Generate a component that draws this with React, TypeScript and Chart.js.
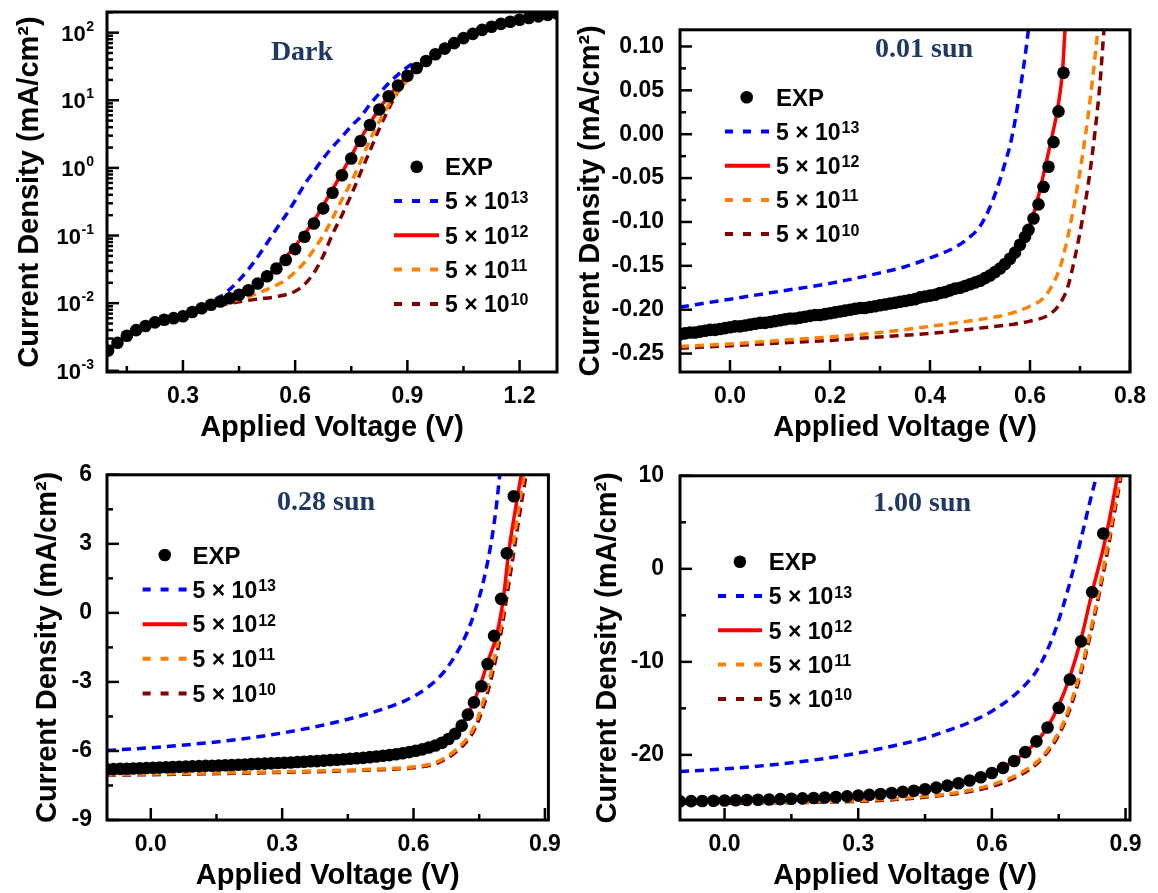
import React, { useEffect, useRef } from "react";
import { Chart, registerables } from "chart.js";

Chart.register(...registerables);

// ---------------- text ----------------
const xTitle = "Applied Voltage (V)";
const yTitle = "Current Density (mA/cm²)";
const legendExpLabel = "EXP";
const legendBase = "5 × 10";
const legendExps = ["13", "12", "11", "10"];
const panelNotes = ["Dark", "0.01 sun", "0.28 sun", "1.00 sun"];

// ---------------- Panel 1: Dark (log) ----------------
const darkExpV = [0.100, 0.125, 0.150, 0.175, 0.200, 0.225, 0.250, 0.275, 0.300, 0.325, 0.350, 0.375, 0.400, 0.425, 0.450, 0.475, 0.500, 0.525, 0.550, 0.575, 0.600, 0.625, 0.650, 0.675, 0.700, 0.725, 0.750, 0.775, 0.800, 0.825, 0.850, 0.875, 0.900, 0.925, 0.950, 0.975, 1.000, 1.025, 1.050, 1.075, 1.100, 1.125, 1.150, 1.175, 1.200, 1.225, 1.250, 1.275, 1.300];
const darkExpJ = [0.0020, 0.0026, 0.0033, 0.0040, 0.0046, 0.0052, 0.0057, 0.0060, 0.0064, 0.0074, 0.0084, 0.0095, 0.0106, 0.0118, 0.0133, 0.0155, 0.0195, 0.0250, 0.0325, 0.0435, 0.063, 0.096, 0.151, 0.252, 0.43, 0.78, 1.38, 2.5, 4.3, 7.3, 11.5, 16.5, 23, 30, 38, 48, 58, 70, 83, 96, 110, 122, 135, 145, 155, 165, 174, 183, 192];
const dark13V = [0.10, 0.15, 0.20, 0.25, 0.30, 0.35, 0.40, 0.425, 0.45, 0.475, 0.50, 0.525, 0.55, 0.575, 0.60, 0.625, 0.65, 0.675, 0.70, 0.725, 0.75, 0.775, 0.80, 0.825, 0.85, 0.875, 0.90, 0.925];
const dark13J = [0.0020, 0.0033, 0.0046, 0.0057, 0.0066, 0.0086, 0.0125, 0.0160, 0.0219, 0.0316, 0.0484, 0.0776, 0.126, 0.20, 0.33, 0.57, 0.89, 1.38, 2.04, 2.88, 4.17, 5.7, 8.7, 12.6, 17.8, 24, 31, 38];
const dark12V = [0.10, 0.15, 0.20, 0.25, 0.30, 0.35, 0.40, 0.45, 0.50, 0.525, 0.55, 0.575, 0.60, 0.625, 0.65, 0.675, 0.70, 0.725, 0.75, 0.775, 0.80, 0.825, 0.85, 0.875, 0.90, 0.925];
const dark12J = [0.0021, 0.0033, 0.0046, 0.0057, 0.0065, 0.0083, 0.0103, 0.0130, 0.0190, 0.025, 0.034, 0.048, 0.070, 0.105, 0.165, 0.28, 0.48, 0.85, 1.5, 2.7, 4.6, 7.5, 11.5, 16.5, 23, 30];
const dark11V = [0.10, 0.15, 0.20, 0.25, 0.30, 0.35, 0.40, 0.45, 0.50, 0.525, 0.55, 0.575, 0.60, 0.625, 0.65, 0.675, 0.70, 0.725, 0.75, 0.775, 0.80, 0.825, 0.85, 0.875, 0.90, 0.925];
const dark11J = [0.0021, 0.0033, 0.0046, 0.0057, 0.0066, 0.0082, 0.0098, 0.0113, 0.0140, 0.0160, 0.0185, 0.022, 0.029, 0.040, 0.062, 0.10, 0.18, 0.34, 0.62, 1.25, 2.6, 4.9, 8.5, 13.5, 20, 28];
const dark10V = [0.10, 0.15, 0.20, 0.25, 0.30, 0.35, 0.40, 0.45, 0.50, 0.55, 0.60, 0.625, 0.65, 0.675, 0.70, 0.725, 0.75, 0.775, 0.80, 0.825, 0.85, 0.875, 0.90, 0.925];
const dark10J = [0.0021, 0.0033, 0.0046, 0.0057, 0.0066, 0.0080, 0.0093, 0.0105, 0.0115, 0.0125, 0.0150, 0.019, 0.028, 0.050, 0.105, 0.20, 0.40, 0.85, 1.8, 3.8, 7.5, 13.5, 20, 28];
const darkXMajor = [0.3, 0.6, 0.9, 1.2];
const darkXMinor = [0.15, 0.45, 0.75, 1.05];
const darkYMajor = [0.001, 0.01, 0.1, 1, 10, 100];
const darkYExps = ["-3", "-2", "-1", "0", "1", "2"];

// ---------------- Panel 2: 0.01 sun ----------------
const lowExpV = [-0.10, -0.09, -0.08, -0.07, -0.06, -0.05, -0.04, -0.03, -0.02, -0.01, 0.00, 0.01, 0.02, 0.03, 0.04, 0.05, 0.06, 0.07, 0.08, 0.09, 0.10, 0.11, 0.12, 0.13, 0.14, 0.15, 0.16, 0.17, 0.18, 0.19, 0.20, 0.21, 0.22, 0.23, 0.24, 0.25, 0.26, 0.27, 0.28, 0.29, 0.30, 0.31, 0.32, 0.33, 0.34, 0.35, 0.36, 0.37, 0.38, 0.39, 0.40, 0.41, 0.42, 0.43, 0.44, 0.45, 0.46, 0.47, 0.48, 0.49, 0.50, 0.51, 0.52, 0.53, 0.54, 0.55, 0.56, 0.57, 0.58, 0.59, 0.597, 0.607, 0.617, 0.627, 0.637, 0.647, 0.657, 0.667];
const lowExpJ = [-0.228, -0.227, -0.226, -0.226, -0.225, -0.224, -0.223, -0.223, -0.222, -0.221, -0.220, -0.219, -0.219, -0.218, -0.217, -0.216, -0.215, -0.215, -0.214, -0.213, -0.212, -0.211, -0.210, -0.210, -0.209, -0.208, -0.207, -0.206, -0.206, -0.205, -0.204, -0.203, -0.202, -0.201, -0.200, -0.199, -0.198, -0.198, -0.197, -0.196, -0.195, -0.194, -0.193, -0.192, -0.191, -0.190, -0.189, -0.188, -0.186, -0.185, -0.184, -0.183, -0.181, -0.180, -0.178, -0.176, -0.175, -0.173, -0.171, -0.169, -0.167, -0.164, -0.161, -0.157, -0.153, -0.148, -0.142, -0.135, -0.126, -0.117, -0.109, -0.096, -0.080, -0.060, -0.037, -0.009, 0.026, 0.070];
const low13V = [-0.10, 0.00, 0.10, 0.20, 0.30, 0.35, 0.40, 0.45, 0.48, 0.50, 0.52, 0.54, 0.55, 0.56, 0.57, 0.58, 0.59, 0.597];
const low13J = [-0.197, -0.188, -0.179, -0.170, -0.158, -0.151, -0.141, -0.129, -0.117, -0.105, -0.083, -0.052, -0.033, -0.013, 0.015, 0.050, 0.088, 0.12];
const low12V = [-0.10, 0.10, 0.30, 0.40, 0.50, 0.55, 0.58, 0.60, 0.615, 0.632, 0.645, 0.655, 0.665, 0.670];
const low12J = [-0.227, -0.212, -0.195, -0.184, -0.167, -0.148, -0.127, -0.103, -0.075, -0.033, 0.000, 0.028, 0.072, 0.119];
const low11V = [-0.10, 0.00, 0.10, 0.20, 0.30, 0.40, 0.50, 0.55, 0.60, 0.63, 0.65, 0.66, 0.67, 0.68, 0.69, 0.70, 0.71, 0.72, 0.73, 0.736];
const low11J = [-0.242, -0.239, -0.235, -0.231, -0.226, -0.219, -0.211, -0.206, -0.196, -0.185, -0.166, -0.152, -0.131, -0.105, -0.075, -0.042, -0.005, 0.038, 0.088, 0.12];
const low10V = [-0.10, 0.00, 0.10, 0.20, 0.30, 0.40, 0.50, 0.60, 0.64, 0.66, 0.675, 0.69, 0.70, 0.71, 0.72, 0.73, 0.74, 0.748];
const low10J = [-0.244, -0.241, -0.238, -0.235, -0.231, -0.227, -0.221, -0.213, -0.205, -0.193, -0.175, -0.140, -0.112, -0.080, -0.043, 0.003, 0.058, 0.12];
const lowXMajor = [0.0, 0.2, 0.4, 0.6, 0.8];
const lowXMinor = [0.1, 0.3, 0.5, 0.7];
const lowYMajor = [0.10, 0.05, 0.00, -0.05, -0.10, -0.15, -0.20, -0.25];
const lowYMinor = [0.075, 0.025, -0.025, -0.075, -0.125, -0.175, -0.225];

// ---------------- Panel 3: 0.28 sun ----------------
const midExpV = [-0.100, -0.085, -0.070, -0.055, -0.040, -0.025, -0.010, 0.005, 0.020, 0.035, 0.050, 0.065, 0.080, 0.095, 0.110, 0.125, 0.140, 0.155, 0.170, 0.185, 0.200, 0.215, 0.230, 0.245, 0.260, 0.275, 0.290, 0.305, 0.320, 0.335, 0.350, 0.365, 0.380, 0.395, 0.410, 0.425, 0.440, 0.455, 0.470, 0.485, 0.500, 0.515, 0.530, 0.545, 0.560, 0.575, 0.590, 0.605, 0.620, 0.635, 0.650, 0.665, 0.680, 0.695, 0.710, 0.724, 0.738, 0.755, 0.769, 0.784, 0.800, 0.813, 0.829];
const midExpJ = [-6.80, -6.79, -6.78, -6.77, -6.76, -6.75, -6.74, -6.73, -6.72, -6.71, -6.70, -6.69, -6.68, -6.67, -6.66, -6.65, -6.64, -6.63, -6.62, -6.61, -6.60, -6.59, -6.57, -6.56, -6.55, -6.54, -6.52, -6.51, -6.50, -6.48, -6.47, -6.45, -6.44, -6.42, -6.40, -6.38, -6.36, -6.34, -6.32, -6.30, -6.27, -6.24, -6.21, -6.18, -6.14, -6.10, -6.05, -5.99, -5.93, -5.85, -5.76, -5.64, -5.48, -5.25, -4.90, -4.42, -3.89, -3.19, -2.22, -1.00, 0.61, 2.59, 5.07];
const mid13V = [-0.10, 0.00, 0.10, 0.20, 0.30, 0.40, 0.45, 0.50, 0.55, 0.58, 0.61, 0.64, 0.67, 0.70, 0.72, 0.74, 0.76, 0.775, 0.787, 0.797];
const mid13J = [-5.98, -5.86, -5.70, -5.50, -5.22, -4.85, -4.62, -4.36, -4.05, -3.82, -3.52, -3.12, -2.55, -1.70, -0.95, 0.05, 1.40, 2.80, 4.30, 6.0];
const mid12V = [-0.10, 0.10, 0.30, 0.50, 0.60, 0.65, 0.68, 0.70, 0.72, 0.74, 0.755, 0.77, 0.79, 0.805, 0.817, 0.838, 0.846];
const mid12J = [-6.82, -6.68, -6.53, -6.28, -6.05, -5.78, -5.48, -5.12, -4.55, -3.75, -3.00, -2.10, -0.95, 0.60, 2.60, 5.10, 6.0];
const mid11V = [-0.10, 0.00, 0.10, 0.20, 0.30, 0.40, 0.50, 0.60, 0.65, 0.68, 0.70, 0.72, 0.74, 0.76, 0.78, 0.80, 0.82, 0.838, 0.852];
const mid11J = [-7.02, -7.00, -6.97, -6.94, -6.90, -6.86, -6.80, -6.69, -6.50, -6.20, -5.90, -5.50, -4.90, -3.80, -2.35, -0.50, 2.05, 4.25, 6.0];
const mid10V = [-0.10, 0.00, 0.10, 0.20, 0.30, 0.40, 0.50, 0.60, 0.65, 0.68, 0.70, 0.72, 0.74, 0.76, 0.78, 0.80, 0.82, 0.84, 0.857];
const mid10J = [-7.05, -7.03, -7.00, -6.97, -6.93, -6.89, -6.83, -6.73, -6.56, -6.28, -6.00, -5.62, -5.05, -4.05, -2.65, -0.85, 1.55, 4.00, 6.0];
const midXMajor = [0.0, 0.3, 0.6, 0.9];
const midXMinor = [0.15, 0.45, 0.75];
const midYMajor = [6, 3, 0, -3, -6, -9];
const midYMinor = [4.5, 1.5, -1.5, -4.5, -7.5];

// ---------------- Panel 4: 1.00 sun ----------------
const sunExpV = [-0.100, -0.075, -0.050, -0.025, 0.000, 0.025, 0.050, 0.075, 0.100, 0.125, 0.150, 0.175, 0.200, 0.225, 0.250, 0.275, 0.300, 0.325, 0.350, 0.375, 0.400, 0.425, 0.450, 0.475, 0.500, 0.525, 0.550, 0.575, 0.600, 0.625, 0.650, 0.675, 0.700, 0.725, 0.750, 0.775, 0.800, 0.825, 0.850];
const sunExpJ = [-25.0, -24.97, -24.95, -24.93, -24.90, -24.88, -24.85, -24.82, -24.79, -24.76, -24.72, -24.68, -24.63, -24.58, -24.52, -24.46, -24.38, -24.30, -24.20, -24.10, -23.98, -23.85, -23.70, -23.52, -23.30, -23.05, -22.75, -22.40, -21.95, -21.40, -20.65, -19.70, -18.55, -17.05, -14.95, -11.90, -7.80, -2.50, 3.80];
const sun13V = [-0.10, 0.00, 0.10, 0.20, 0.30, 0.40, 0.45, 0.50, 0.55, 0.60, 0.65, 0.68, 0.70, 0.72, 0.74, 0.76, 0.78, 0.80, 0.82, 0.835];
const sun13J = [-21.8, -21.5, -21.1, -20.55, -19.8, -18.8, -18.2, -17.4, -16.5, -15.3, -13.6, -12.2, -11.0, -9.2, -6.9, -4.0, -0.6, 3.2, 7.2, 10.0];
const sun12V = [-0.10, 0.20, 0.40, 0.50, 0.60, 0.65, 0.675, 0.70, 0.725, 0.75, 0.775, 0.80, 0.825, 0.85, 0.865, 0.882];
const sun12J = [-25.0, -24.62, -23.95, -23.3, -21.9, -20.6, -19.7, -18.6, -17.0, -14.7, -11.6, -7.6, -2.5, 2.2, 5.6, 10.0];
const sun11V = [-0.10, 0.00, 0.10, 0.20, 0.30, 0.40, 0.50, 0.55, 0.60, 0.65, 0.68, 0.70, 0.72, 0.74, 0.76, 0.78, 0.80, 0.82, 0.84, 0.86, 0.875, 0.888];
const sun11J = [-25.1, -25.1, -25.1, -25.05, -24.9, -24.65, -24.2, -23.8, -23.2, -22.3, -21.5, -20.8, -19.8, -18.4, -16.6, -14.0, -10.8, -6.9, -2.4, 2.6, 6.6, 10.0];
const sun10V = [-0.10, 0.00, 0.10, 0.20, 0.30, 0.40, 0.50, 0.55, 0.60, 0.65, 0.68, 0.70, 0.72, 0.74, 0.76, 0.78, 0.80, 0.82, 0.84, 0.86, 0.875, 0.89];
const sun10J = [-25.2, -25.2, -25.15, -25.1, -25.0, -24.75, -24.3, -23.95, -23.4, -22.5, -21.7, -21.0, -20.0, -18.7, -16.9, -14.4, -11.2, -7.3, -2.9, 2.0, 6.0, 10.0];
const sunXMajor = [0.0, 0.3, 0.6, 0.9];
const sunXMinor = [0.15, 0.45, 0.75];
const sunYMajor = [10, 0, -10, -20];
const sunYMinor = [5, -5, -15, -25];

// ---------------- styles ----------------
const FONT = "'Liberation Sans', Arial, Helvetica, sans-serif";
const NOTE_FONT = "'Liberation Serif', 'DejaVu Serif', serif";
const BLUE = "#0000ff";
const RED = "#ff0000";
const ORANGE = "#ff8000";
const MAROON = "#800000";
const NOTE_COLOR = "#1f3864";
const PLOT_DASH = [9, 6];
const LEGEND_DASH = [8, 10];

type Panel = {
  left: number; top: number; w: number; h: number;
  padT: number; padR: number; yAxisW: number; xAxisH: number;
  yTitlePad: number; xTitlePad: number; yTickPad: number;
  xMin: number; xMax: number; yMin: number; yMax: number; logY: boolean; yDec: number;
  xMajor: number[]; xMinor: number[]; yMajor: number[]; yMinor: number[]; yExps?: string[];
  expV: number[]; expJ: number[];
  s: [number[], number[]][];
  legend: { dotX: number; lineX0: number; lineX1: number; textX: number; y0: number; dy: number };
  note: { text: string; x: number; y: number };
};

const panels: Panel[] = [
  {
    left: 0, top: 0, w: 572, h: 446, padT: 12, padR: 15, yAxisW: 107, xAxisH: 74,
    yTitlePad: 13, xTitlePad: 1, yTickPad: 13,
    xMin: 0.097, xMax: 1.3, yMin: 0.00096, yMax: 202, logY: true, yDec: 0,
    xMajor: darkXMajor, xMinor: darkXMinor, yMajor: darkYMajor, yMinor: [], yExps: darkYExps,
    expV: darkExpV, expJ: darkExpJ,
    s: [[dark13V, dark13J], [dark12V, dark12J], [dark11V, dark11J], [dark10V, dark10J]],
    legend: { dotX: 416.7, lineX0: 394, lineX1: 439, textX: 445, y0: 166.7, dy: 34.3 },
    note: { text: panelNotes[0], x: 302, y: 60 },
  },
  {
    left: 572, top: 0, w: 586, h: 446, padT: 12, padR: 28, yAxisW: 108, xAxisH: 74,
    yTitlePad: 2, xTitlePad: 1, yTickPad: 16,
    xMin: -0.1, xMax: 0.8, yMin: -0.271, yMax: 0.119, logY: false, yDec: 2,
    xMajor: lowXMajor, xMinor: lowXMinor, yMajor: lowYMajor, yMinor: lowYMinor,
    expV: lowExpV, expJ: lowExpJ,
    s: [[low13V, low13J], [low12V, low12J], [low11V, low11J], [low10V, low10J]],
    legend: { dotX: 174.7, lineX0: 153, lineX1: 198, textX: 204, y0: 97.3, dy: 34.2 },
    note: { text: panelNotes[1], x: 352, y: 57 },
  },
  {
    left: 0, top: 446, w: 572, h: 447, padT: 14, padR: 15, yAxisW: 107, xAxisH: 73,
    yTitlePad: 31, xTitlePad: 0, yTickPad: 15,
    xMin: -0.1, xMax: 0.908, yMin: -9, yMax: 6, logY: false, yDec: 0,
    xMajor: midXMajor, xMinor: midXMinor, yMajor: midYMajor, yMinor: midYMinor,
    expV: midExpV, expJ: midExpJ,
    s: [[mid13V, mid13J], [mid12V, mid12J], [mid11V, mid11J], [mid10V, mid10J]],
    legend: { dotX: 164.8, lineX0: 142.6, lineX1: 187, textX: 192.6, y0: 109, dy: 34.6 },
    note: { text: panelNotes[2], x: 326, y: 64 },
  },
  {
    left: 572, top: 446, w: 586, h: 447, padT: 14, padR: 28, yAxisW: 108, xAxisH: 73,
    yTitlePad: 19, xTitlePad: 0, yTickPad: 16,
    xMin: -0.1, xMax: 0.91, yMin: -27, yMax: 10, logY: false, yDec: 0,
    xMajor: sunXMajor, xMinor: sunXMinor, yMajor: sunYMajor, yMinor: sunYMinor,
    expV: sunExpV, expJ: sunExpJ,
    s: [[sun13V, sun13J], [sun12V, sun12J], [sun11V, sun11J], [sun10V, sun10J]],
    legend: { dotX: 167.9, lineX0: 146, lineX1: 190, textX: 196.7, y0: 115.7, dy: 34.3 },
    note: { text: panelNotes[3], x: 350, y: 65 },
  },
];

const simStyles = [
  { color: BLUE, dash: PLOT_DASH },
  { color: RED, dash: [] as number[] },
  { color: ORANGE, dash: PLOT_DASH },
  { color: MAROON, dash: PLOT_DASH },
];

function decoPlugin(p: Panel) {
  return {
    id: "deco",
    afterDatasetsDraw(chart: any) {
      const { ctx, chartArea: a } = chart;
      const sx = chart.scales.x;
      const sy = chart.scales.y;
      const seg = (x1: number, y1: number, x2: number, y2: number) => {
        ctx.beginPath();
        ctx.moveTo(x1, y1);
        ctx.lineTo(x2, y2);
        ctx.stroke();
      };
      ctx.save();
      ctx.strokeStyle = "#000";
      ctx.setLineDash([]);
      ctx.lineWidth = 3;
      ctx.strokeRect(a.left, a.top, a.right - a.left, a.bottom - a.top);
      ctx.lineWidth = 2.5;
      p.xMajor.forEach((v) => { const x = sx.getPixelForValue(v); seg(x, a.bottom, x, a.bottom - 12); });
      p.xMinor.forEach((v) => { const x = sx.getPixelForValue(v); seg(x, a.bottom, x, a.bottom - 6); });
      p.yMajor.forEach((v) => { const y = sy.getPixelForValue(v); seg(a.left, y, a.left + 12, y); });
      p.yMinor.forEach((v) => { const y = sy.getPixelForValue(v); seg(a.left, y, a.left + 6, y); });
      if (p.logY) {
        p.yMajor.forEach((dec) => {
          for (let m = 2; m <= 9; m++) {
            const v = dec * m;
            if (v > p.yMax) continue;
            const y = sy.getPixelForValue(v);
            seg(a.left, y, a.left + 6, y);
          }
        });
        ctx.fillStyle = "#000";
        ctx.textBaseline = "alphabetic";
        const xr = a.left - p.yTickPad;
        p.yMajor.forEach((v, i) => {
          const y = sy.getPixelForValue(v);
          const e = (p.yExps || [])[i] || "";
          ctx.font = `bold 14px ${FONT}`;
          const we = ctx.measureText(e).width;
          ctx.textAlign = "left";
          ctx.fillText(e, xr - we, y - 2);
          ctx.font = `bold 22px ${FONT}`;
          ctx.textAlign = "right";
          ctx.fillText("10", xr - we - 0.5, y + 8);
        });
      }
      // legend
      const L = p.legend;
      ctx.fillStyle = "#000";
      ctx.beginPath();
      ctx.arc(L.dotX, L.y0, 6.3, 0, Math.PI * 2);
      ctx.fill();
      ctx.textAlign = "left";
      ctx.textBaseline = "alphabetic";
      ctx.font = `bold 24px ${FONT}`;
      ctx.fillText(legendExpLabel, L.textX, L.y0 + 8.6);
      simStyles.forEach((st, i) => {
        const y = L.y0 + L.dy * (i + 1);
        ctx.strokeStyle = st.color;
        ctx.lineWidth = 4;
        ctx.setLineDash(st.dash.length ? LEGEND_DASH : []);
        seg(L.lineX0, y, L.lineX1, y);
        ctx.setLineDash([]);
        ctx.fillStyle = "#000";
        ctx.font = `bold 23px ${FONT}`;
        ctx.fillText(legendBase, L.textX, y + 8.2);
        const wb = ctx.measureText(legendBase).width;
        ctx.font = `bold 16px ${FONT}`;
        ctx.fillText(legendExps[i], L.textX + wb + 1, y + 1.5);
      });
      // note
      ctx.fillStyle = NOTE_COLOR;
      ctx.font = `bold 28px ${NOTE_FONT}`;
      ctx.textAlign = "center";
      ctx.fillText(p.note.text, p.note.x, p.note.y);
      ctx.restore();
    },
  };
}

function makeConfig(p: Panel) {
  const pts = (v: number[], j: number[]) => v.map((x, i) => ({ x, y: j[i] }));
  const datasets: any[] = [
    {
      data: pts(p.expV, p.expJ),
      showLine: false,
      pointRadius: 6.3,
      pointHoverRadius: 6.3,
      pointBackgroundColor: "#000",
      pointBorderColor: "#000",
      pointBorderWidth: 0,
    },
    ...p.s.map(([v, j], i) => ({
      data: pts(v, j),
      showLine: true,
      borderColor: simStyles[i].color,
      backgroundColor: simStyles[i].color,
      borderWidth: 3.5,
      borderDash: simStyles[i].dash,
      pointRadius: 0,
      pointHoverRadius: 0,
      cubicInterpolationMode: "monotone",
      fill: false,
    })),
  ];
  const tickFont = { family: FONT, size: 23, weight: "bold" as const };
  const titleFont = { family: FONT, size: 29, weight: "bold" as const };
  return {
    type: "scatter",
    data: { datasets },
    options: {
      responsive: false,
      animation: false,
      events: [],
      layout: { padding: { left: 0, right: p.padR, top: p.padT, bottom: 0 }, autoPadding: false },
      plugins: { legend: { display: false }, tooltip: { enabled: false } },
      scales: {
        x: {
          type: "linear",
          position: "bottom",
          min: p.xMin,
          max: p.xMax,
          grid: { display: false, drawTicks: false },
          border: { display: false },
          ticks: {
            color: "#000",
            font: tickFont,
            padding: 11,
            maxRotation: 0,
            minRotation: 0,
            autoSkip: false,
            callback: (v: any) => Number(v).toFixed(1),
          },
          afterBuildTicks: (s: any) => { s.ticks = p.xMajor.map((v) => ({ value: v })); },
          afterFit: (s: any) => { s.height = p.xAxisH; },
          title: { display: true, text: xTitle, color: "#000", font: titleFont, padding: { top: 0, bottom: p.xTitlePad } },
        },
        y: {
          type: p.logY ? "logarithmic" : "linear",
          position: "left",
          min: p.yMin,
          max: p.yMax,
          grid: { display: false, drawTicks: false },
          border: { display: false },
          ticks: {
            display: !p.logY,
            color: "#000",
            font: tickFont,
            padding: p.yTickPad,
            autoSkip: false,
            callback: (v: any) => Number(v).toFixed(p.yDec),
          },
          afterBuildTicks: (s: any) => { s.ticks = p.yMajor.map((v) => ({ value: v })); },
          afterFit: (s: any) => { s.width = p.yAxisW; },
          title: { display: true, text: yTitle, color: "#000", font: titleFont, padding: { top: p.yTitlePad, bottom: 0 } },
        },
      },
    },
    plugins: [decoPlugin(p)],
  };
}

function PanelChart({ p }: { p: Panel }) {
  const ref = useRef<HTMLCanvasElement | null>(null);
  useEffect(() => {
    if (!ref.current) return;
    const chart = new Chart(ref.current, makeConfig(p) as any);
    return () => chart.destroy();
  }, [p]);
  return (
    <canvas
      ref={ref}
      width={p.w}
      height={p.h}
      style={{ position: "absolute", left: p.left, top: p.top, width: p.w, height: p.h }}
    />
  );
}

export default function App() {
  return (
    <div style={{ position: "absolute", left: 0, top: 0, width: 1158, height: 893, background: "#fff", overflow: "hidden" }}>
      {panels.map((p, i) => (
        <PanelChart key={i} p={p} />
      ))}
    </div>
  );
}
